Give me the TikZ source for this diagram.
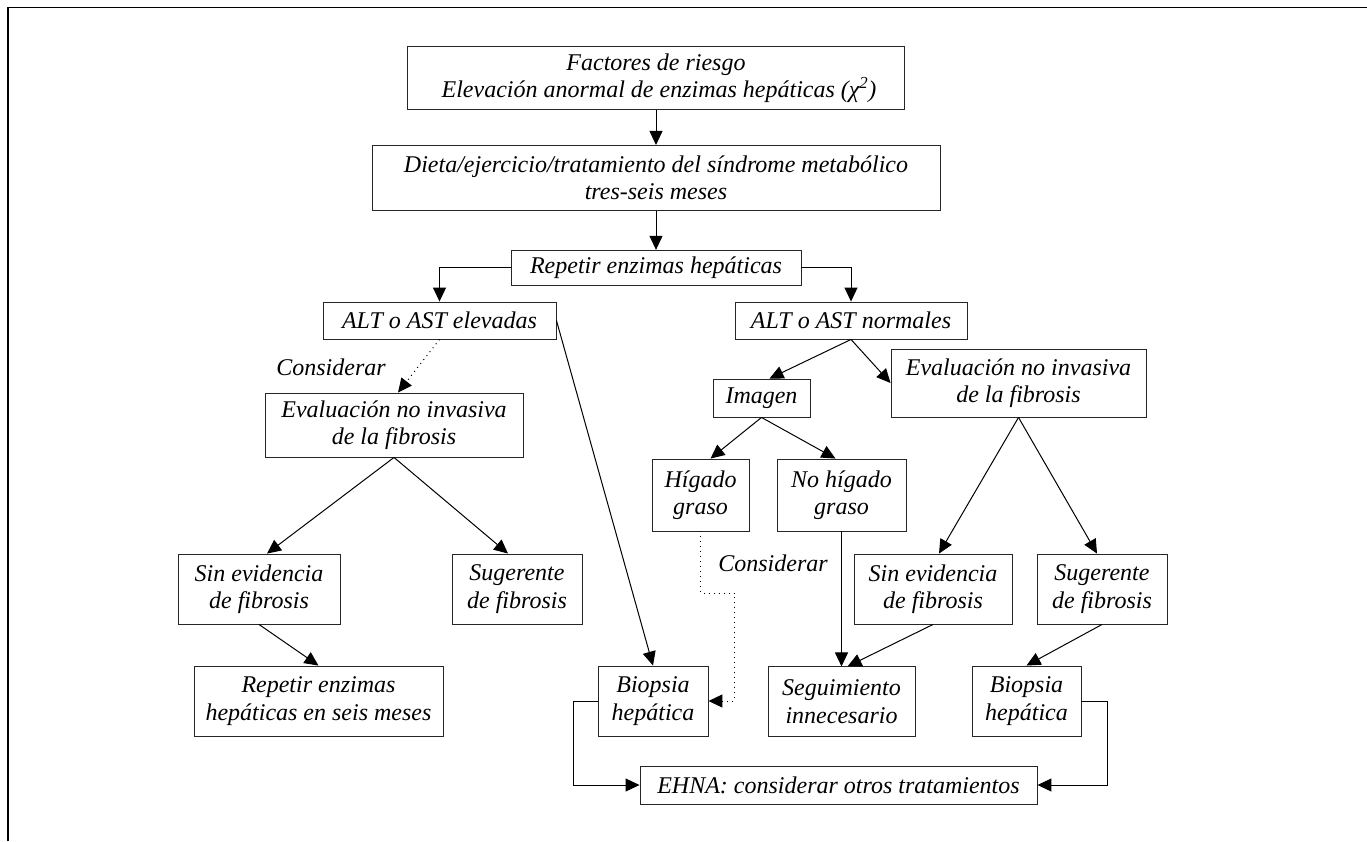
\documentclass[tikz,border=0pt]{standalone}
\usepackage{fontspec}
\setmainfont{Liberation Serif}
\usetikzlibrary{arrows.meta, positioning, calc}
\tikzset{
  % blocks
  box/.style   = {draw=black!85, line width=0.9pt, align=center, inner sep=0pt,
                  font=\fontsize{24}{27.5}\selectfont\itshape},
  note/.style  = {inner sep=0pt, font=\fontsize{24}{27.5}\selectfont\itshape},
  % arrows
  flow/.style    = {-{Triangle[length=14pt,width=13pt]}, line width=1pt},
  dotflow/.style = {flow, dash pattern=on 1pt off 4pt},
  frame/.style   = {line width=1.6pt},
}

\begin{document}
\begin{tikzpicture}[x=1pt, y=-1pt]
\useasboundingbox (0,0) rectangle (1367,841);
\draw[frame] (8,841) -- (8,7.5) -- (1367,7.5);

% ---------- Top chain ----------
\node[box, minimum width=497pt, minimum height=63pt] (risk) at (656,78)
  {Factores de riesgo\\ \ Elevación anormal de enzimas hepáticas (χ\textsuperscript{2})};
\node[box, below=35pt of risk, minimum width=568pt, minimum height=65pt] (diet)
  {Dieta/ejercicio/tratamiento del síndrome metabólico\\ tres-seis meses};
\node[box, below=39pt of diet, minimum width=290pt, minimum height=35pt] (repeat)
  {Repetir enzimas hepáticas};

% ---------- Left branch ----------
\node[box, minimum width=233pt, minimum height=37pt] (altup) at (439.5,320.5) {ALT o AST elevadas};
\node[note] (considL) at (331,367) {Considerar};
\node[box, minimum width=258pt, minimum height=64pt] (evalL) at (394,425)
  {Evaluación no invasiva\\ de la fibrosis};
\node[box, minimum width=162pt, minimum height=70pt] (sinL) at (259,589)
  {Sin evidencia\\ de fibrosis};
\node[box, minimum width=130pt, minimum height=70pt] (sugL) at (517,589)
  {Sugerente\\ de fibrosis};
\node[box, minimum width=249pt, minimum height=70pt] (repsix) at (318.5,701)
  {Repetir enzimas\\ hepáticas en seis meses};
\node[box, minimum width=110pt, minimum height=70pt] (biopL) at (653,701)
  {Biopsia\\ hepática};

% ---------- Right branch ----------
\node[box, minimum width=232pt, minimum height=37pt] (altnorm) at (851,320.5) {ALT o AST normales};
\node[box, minimum width=97pt, minimum height=38pt] (imagen) at (761.5,398) {Imagen};
\node[box, minimum width=255pt, minimum height=68pt] (evalR) at (1018.5,383)
  {Evaluación no invasiva\\ de la fibrosis};
\node[box, minimum width=97pt, minimum height=72pt] (higado) at (700.5,495)
  {Hígado\\ graso};
\node[box, minimum width=129pt, minimum height=72pt] (nohigado) at (841.5,495)
  {No hígado\\ graso};
\node[note] (considR) at (773,563) {Considerar};
\node[box, minimum width=158pt, minimum height=70pt] (sinR) at (933,589)
  {Sin evidencia\\ de fibrosis};
\node[box, minimum width=130pt, minimum height=70pt] (sugR) at (1102,589)
  {Sugerente\\ de fibrosis};
\node[box, below=135pt of nohigado, minimum width=147pt, minimum height=70pt] (seguim)
  {Seguimiento\\ innecesario};
\node[box, minimum width=109pt, minimum height=70pt] (biopR) at (1026.5,701)
  {Biopsia\\ hepática};
\node[box, minimum width=397pt, minimum height=38pt] (ehna) at (838.5,785)
  {EHNA: considerar otros tratamientos};

\coordinate (dotturn) at ([shift={(34,62)}]higado.south);

% ---------- Flow: top ----------
\draw[flow] (risk) -- (diet);
\draw[flow] (diet) -- (repeat);
\draw[flow] (repeat.west) -| (altup.north);
\draw[flow] (repeat.east) -| (altnorm.north);

% ---------- Flow: left ----------
\draw[dotflow] (altup.south) -- ([xshift=4pt]evalL.north);
\draw[flow] (evalL.south) -- ([xshift=8pt]sinL.north);
\draw[flow] (evalL.south) -- ([xshift=-9pt]sugL.north);
\draw[flow] (sinL.south) -- (repsix.north);
\draw[flow] (altup.east) -- (biopL.north);
\draw[flow] (biopL.west) -- ++(-24,0) |- (ehna.west);

% ---------- Flow: right ----------
\draw[flow] (altnorm.south) -- ([xshift=8pt]imagen.north);
\draw[flow] (altnorm.south) -- (evalR.west);
\draw[flow] (imagen.south) -- ([xshift=10pt]higado.north);
\draw[flow] (imagen.south) -- ([xshift=-6pt]nohigado.north);
\draw[dotflow] (higado.south) |- (dotturn) |- (biopL.east);
\draw[flow] (nohigado) -- (seguim);
\draw[flow] (evalR.south) -- ([xshift=6pt]sinR.north);
\draw[flow] (evalR.south) -- ([xshift=-5pt]sugR.north);
\draw[flow] (sinR.south) -- ([xshift=6pt]seguim.north);
\draw[flow] (sugR.south) -- (biopR.north);
\draw[flow] (biopR.east) -- ++(26,0) |- (ehna.east);

\end{tikzpicture}
\end{document}
